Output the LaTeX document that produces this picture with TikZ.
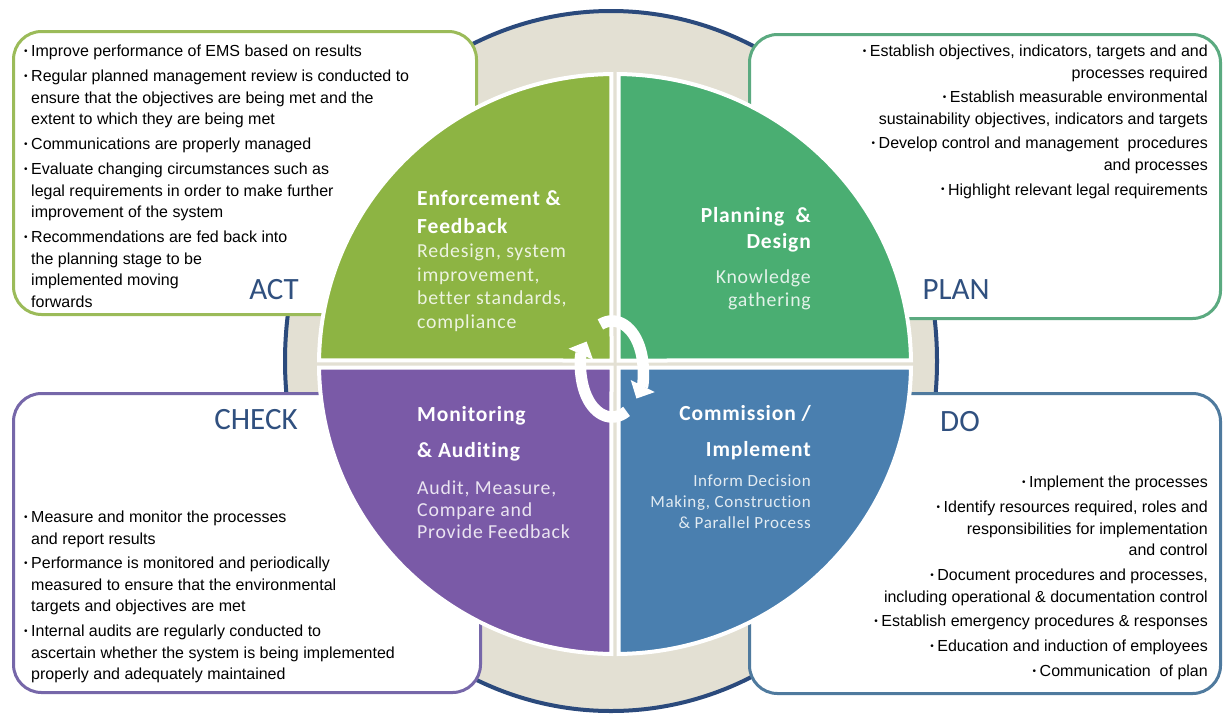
\documentclass[tikz,border=0pt]{standalone}
\usepackage{fontspec}
\setmainfont{Liberation Sans}
\newfontfamily\lblfont{Carlito}
\newfontfamily\quadfont{Carlito}[LetterSpace=4, Ligatures=NoCommon]
\usepackage{tikz}
\usetikzlibrary{positioning,arrows.meta,calc}
\definecolor{palEnf}{HTML}{8DB443}
\definecolor{palPln}{HTML}{4AAE72}
\definecolor{palMon}{HTML}{7A5AA7}
\definecolor{palCom}{HTML}{4A7FAF}
\definecolor{palActLn}{HTML}{9BBB59}
\definecolor{palPlnLn}{HTML}{5BAA80}
\definecolor{palChkLn}{HTML}{7667A9}
\definecolor{palDoLn}{HTML}{4F7A9E}
\definecolor{palRing}{HTML}{2B4A7C}
\definecolor{palRingFill}{HTML}{E3E0D3}
\definecolor{palLbl}{HTML}{30507F}
\newcommand{\bul}{\makebox[7pt][l]{\raisebox{2.5pt}{\fontsize{10}{10}\selectfont •}}}
\newcommand{\ind}{\hspace*{7pt}}
\tikzset{
  phasebox/.style={draw, fill=white, rounded corners=28pt, line width=3pt,
                   inner sep=0pt},
  phaselbl/.style={font=\lblfont\fontsize{31}{31}\selectfont, text=palLbl,
                   inner sep=0pt},
  bultext/.style={font=\fontsize{16}{21.5}\selectfont, inner sep=0pt},
  quadtitle/.style={font=\quadfont\bfseries\fontsize{21.5}{#1}\selectfont,
                    text=white, inner sep=0pt},
  quadtitle/.default=28,
  quadbody/.style={font=\quadfont\fontsize{19.8}{#1}\selectfont, inner sep=0pt},
  quadbody/.default=23.7,
  quadarc/.style={draw=white, line width=4pt},
  cyclearrow/.style={white, line width=11.5pt,
                     -{Triangle[width=26pt,length=14pt]}},
}

\begin{document}
\begin{tikzpicture}[x=1pt, y=-1pt]
\useasboundingbox (0,0) rectangle (1225,715);
\def\gap{3.5}   % half gap between quadrants
\coordinate (ctr) at (615,364);
\coordinate (cyc) at (612,369);

%% Ring behind the boxes
\draw[palRing, line width=4pt, fill=palRingFill] (611,361) ellipse [x radius=326, y radius=350];

%% Phase boxes
\node[phasebox, draw=palActLn, minimum width=463pt, minimum height=283pt] (actbox) at (245,173) {};
\node[phasebox, draw=palPlnLn, minimum width=471pt, minimum height=284pt] (plnbox) at (985,176.5) {};
\node[phasebox, draw=palChkLn, minimum width=467pt, minimum height=299pt] (chkbox) at (247,543) {};
\node[phasebox, draw=palDoLn, minimum width=471pt, minimum height=300pt] (dobox) at (985,543.5) {};

%% Phase labels
\node[phaselbl] (actlbl) at (274,290) {ACT};
\node[phaselbl] (plnlbl) at (956,290) {PLAN};
\node[phaselbl] (chklbl) at (256,420) {CHECK};
\node[phaselbl] (dolbl) at (960,422) {DO};

%% Bullet lists
\node[bultext, align=left, anchor=north west] (acttxt) at (24,45) {%
\bul Improve performance of EMS based on results\\[3.5pt]
\bul Regular planned management review is conducted to\\
\ind ensure that the objectives are being met and the\\
\ind extent to which they are being met\\[3.5pt]
\bul Communications are properly managed\\[3.5pt]
\bul Evaluate changing circumstances such as\\
\ind legal requirements in order to make further\\
\ind improvement of the system\\[3.5pt]
\bul Recommendations are fed back into\\
\ind the planning stage to be\\
\ind implemented moving\\
\ind forwards};

\node[bultext, align=right, anchor=north east] (plntxt) at (1208,45) {%
\bul Establish objectives, indicators, targets and and\\
processes required\\[3pt]
\bul Establish measurable environmental\\
sustainability objectives, indicators and targets\\[3pt]
\bul Develop control and management \ procedures\\
and processes\\[3.5pt]
\bul Highlight relevant legal requirements};

\node[bultext, align=left, anchor=north west] (chktxt) at (24,511) {%
\bul Measure and monitor the processes\\
\ind and report results\\[3pt]
\bul Performance is monitored and periodically\\
\ind measured to ensure that the environmental\\
\ind targets and objectives are met\\[3.5pt]
\bul Internal audits are regularly conducted to\\
\ind ascertain whether the system is being implemented\\
\ind properly and adequately maintained};

\node[bultext, align=right, anchor=north east] (dotxt) at (1208,476) {%
\bul Implement the processes\\[3.5pt]
\bul Identify resources required, roles and\\
responsibilities for implementation\\
and control\\[3.5pt]
\bul Document procedures and processes,\\
including operational \& documentation control\\[3pt]
\bul Establish emergency procedures \& responses\\[3.5pt]
\bul Education and induction of employees\\[3.5pt]
\bul Communication \ of plan};

%% Quadrants
\foreach \nm/\ang/\sx/\sy/\col in {enf/180/-1/-1/palEnf, pln/270/1/-1/palPln,
                                   com/0/1/1/palCom, mon/90/-1/1/palMon} {
  \filldraw[fill=\col, quadarc] ($(ctr)+(\sx*\gap,\sy*\gap)$) -- ($(ctr)+(\ang+0.7:296 and 290)$)
    arc[start angle=\ang+0.7, end angle=\ang+89.3, x radius=296, y radius=290] -- cycle;
}

%% Quadrant texts
\node[quadtitle, align=left, anchor=north west] (enfttl) at (417,190) {Enforcement \&\\Feedback};
\node[quadbody, text=white!84!palEnf, align=left, below right=10pt and 0pt of enfttl.south west]
  (enfbody) {Redesign, system\\improvement,\\better standards,\\compliance};

\node[quadtitle=26, align=right, anchor=north east] (plnttl) at (811,207) {Planning\ \ \&\\Design};
\node[quadbody=23, text=white!84!palPln, align=right, below left=17pt and 0pt of plnttl.south east]
  (plnbody) {Knowledge\\gathering};

\node[quadtitle=36, align=left, anchor=north west] (monttl) at (417,406) {Monitoring\\\& Auditing};
\node[quadbody=22, text=white!84!palMon, align=left, below right=19pt and 0pt of monttl.south west]
  (monbody) {Audit, Measure,\\Compare and\\Provide Feedback};

\node[quadtitle=36, align=right, anchor=north east] (comttl) at (811,405) {Commission /\\Implement};
\node[font=\quadfont\fontsize{17}{21}\selectfont, inner sep=0pt, text=white!84!palCom, align=right,
  below left=15pt and 0pt of comttl.south east] (combody) {Inform Decision\\Making, Construction\\\& Parallel Process};

%% Cycle arrows
\draw[cyclearrow] ($(cyc)+(-112:31 and 48)$) arc[start angle=-112, end angle=38, x radius=31, y radius=48];
\draw[cyclearrow] ($(cyc)+(62:31 and 48)$) arc[start angle=62, end angle=215, x radius=31, y radius=48];
\end{tikzpicture}
\end{document}
